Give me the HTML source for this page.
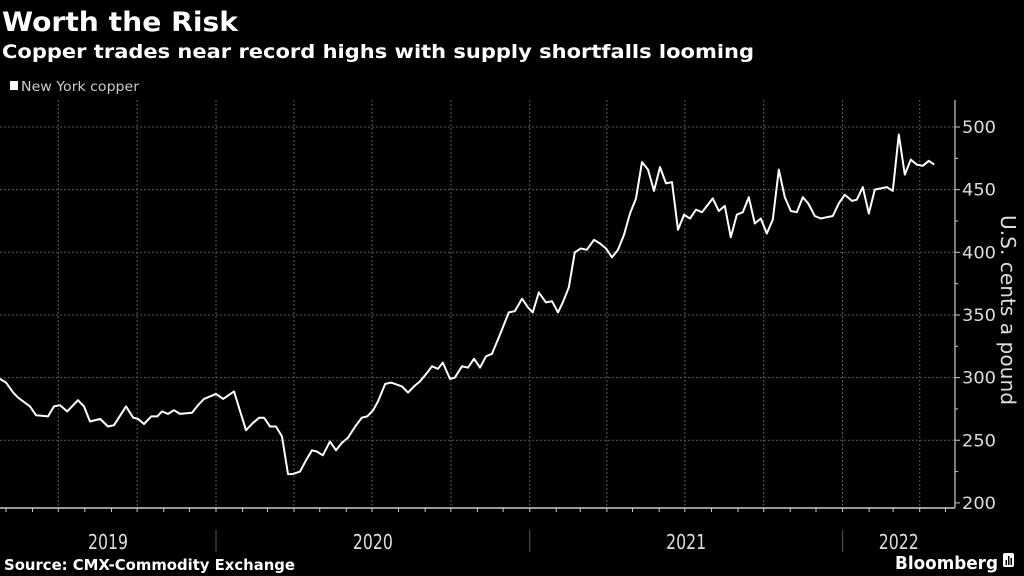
<!DOCTYPE html>
<html><head><meta charset="utf-8"><style>
html,body{margin:0;padding:0;background:#000;}
svg{display:block;font-family:"DejaVu Sans","Liberation Sans",sans-serif;}
</style></head><body>
<svg id="chart" width="1024" height="576" viewBox="0 0 1024 576" xmlns="http://www.w3.org/2000/svg">
<rect width="1024" height="576" fill="#000"/>
<text x="2" y="31" fill="#fff" font-weight="bold" font-size="27" textLength="236" lengthAdjust="spacingAndGlyphs">Worth the Risk</text>
<text x="2" y="58" fill="#fff" font-weight="bold" font-size="19" textLength="752" lengthAdjust="spacingAndGlyphs">Copper trades near record highs with supply shortfalls looming</text>
<g>
<rect x="10" y="81" width="8" height="9" fill="#fff"/>
<text x="21" y="91" fill="#ccc" font-size="13" textLength="118" lengthAdjust="spacingAndGlyphs">New York copper</text>
</g>
<g id="grid"></g>
<g id="xaxis"></g>
<g id="yaxis"></g>
<g id="series"></g>
<text transform="translate(1001,310) rotate(90)" text-anchor="middle" fill="#ddd" font-size="20" textLength="190" lengthAdjust="spacingAndGlyphs">U.S. cents a pound</text>
<text x="4" y="570" fill="#fff" font-weight="bold" font-size="15" textLength="291" lengthAdjust="spacingAndGlyphs">Source: CMX-Commodity Exchange</text>
<text x="895" y="569" fill="#fff" font-weight="bold" font-size="18" textLength="103" lengthAdjust="spacingAndGlyphs">Bloomberg</text>
<g><rect x="1003" y="553" width="11" height="14" rx="2" fill="#fff"/><rect x="1005.5" y="560" width="1.5" height="5" fill="#000"/><rect x="1008" y="556" width="1.5" height="9" fill="#000"/><rect x="1010.5" y="558" width="1.5" height="7" fill="#000"/></g>
</svg>
<script>
const weeks = [0,1,2.2,3,5,6,8,9,10,11.2,12,13,14,15,16.7,18,19,21,22.2,23,24,25.2,26.2,27,28,29,30,32,33,34,36,37.2,39,41,42.2,43.2,44,45,46,47,48,48.8,50,51,52,52.8,53.8,55,56,57,58,59.2,60.3,61.2,62.2,63,64.2,65.2,67,68,69,70,71.2,72,73,73.8,75,75.8,77,78,79,80,81,82,
83.3,84.8,85.8,87,88,88.8,89.8,91,92,93,93.8,94.8,95.8,96.8,97.8,99,100,101,102,103,104,105,106,107,108,109,110,111,112,113,114,115,116,117,118.8,119.8,120.8,121.8,122.8,123.8,124.8,125.8,126.8,127.8,128.8,129.8,130.8,131.8,132.8,133.8,134.7,135.8,136.8,137.8,138.8,139.8,140.8,142,142.8,143.8,144.8,145.8,146.8,147.8,148.8,149.8,150.8,151.8,152.8,153.8,154.8,155.7];
const prices = [299,296,288,284,277,270,269,277,278,273,277,282,277,265,267,261,262,277,268,267,263,269,269,273,271,274,271,272,278,283,287,283,289,258,264,268,268,261,261,253,223,223,225,234,242,241,238,249,242,248,252,261,268,269,274,281,295,296,293,288,293,297,304,309,307,312,299,300,309,308,315,308,317,319,
334,352,353,363,356,352,368,360,361,352,360,372,400,403,402,410,407,403,396,402,414,431,443,472,466,449,468,455,456,418,430,427,434,432,443,433,437,412,430,432,444,423,427,415,426,466,444,433,432,444,439,429,427,428,429,439,446,441,442,452,431,450,451,452,449,494,462,474,470,469,473,470];
const yTicks = [200,250,300,350,400,450,500];
const yTickLabels = ["200","250","300","350","400","450","500"];
const years = [2019,2020,2021,2022];
const startDate = "2019-04-24";

const NS = "http://www.w3.org/2000/svg";
const plotLeft = 0, plotRight = 955, axisY = 508;
function yScale(v){ return 127 + (500 - v) * 1.253; }
function xWeek(w){ return w * 6; }
const t0 = Date.UTC(2019,3,24);
function xDate(y,m){ return xWeek((Date.UTC(y,m,1) - t0) / (7*86400000)); }
function mk(tag, attrs, parent){ const e = document.createElementNS(NS, tag); for (const k in attrs) e.setAttribute(k, attrs[k]); parent.appendChild(e); return e; }

const grid = document.getElementById('grid');
const xaxis = document.getElementById('xaxis');
const yaxis = document.getElementById('yaxis');
const series = document.getElementById('series');

yTicks.forEach((v,i) => {
  const y = yScale(v);
  if (v > 200) {
    const g = mk('line', {x1:plotLeft, x2:plotRight, y1:y, y2:y, stroke:'#5a5a5a', 'stroke-width':1, 'stroke-dasharray':'2,2'}, grid);
    
    
  }
  const t = mk('line', {x1:plotRight, x2:plotRight+5, y1:y, y2:y, stroke:'#ccc', 'stroke-width':1}, yaxis);
  
  
  const l = mk('text', {x:plotRight+7, y:y+6, fill:'#ddd', 'font-size':17, textLength:34, lengthAdjust:'spacingAndGlyphs'}, yaxis);
  l.textContent = yTickLabels[i];
  
  
});
for (let i=0;i<yTicks.length-1;i++){
  const y = yScale((yTicks[i]+yTicks[i+1])/2);
  const t = mk('line', {x1:plotRight, x2:plotRight+3, y1:y, y2:y, stroke:'#ccc', 'stroke-width':1}, yaxis);
  
  
}
const yl = mk('line', {x1:plotRight, x2:plotRight, y1:100, y2:axisY, stroke:'#ccc', 'stroke-width':1.2}, yaxis);



const xl = mk('line', {x1:0, x2:plotRight, y1:axisY, y2:axisY, stroke:'#ccc', 'stroke-width':1.5}, xaxis);


for (let y=2019; y<=2022; y++){
  for (let m=0; m<12; m++){
    const x = xDate(y,m);
    if (x < 0 || x > plotRight) continue;
    const t = mk('line', {x1:x, x2:x, y1:axisY, y2:axisY+4, stroke:'#ccc', 'stroke-width':1}, xaxis);
    
    
    if (m % 3 === 0) {
      const g = mk('line', {x1:x, x2:x, y1:100, y2:axisY, stroke:'#5a5a5a', 'stroke-width':1, 'stroke-dasharray':'2,2'}, grid);
      
      
    }
  }
}
years.forEach(yr => {
  const a = Math.max(0, xDate(yr,0)), b = Math.min(plotRight, xDate(yr+1,0));
  if (yr > years[0]) {
    const s = mk('line', {x1:a, x2:a, y1:530, y2:552, stroke:'#555', 'stroke-width':1}, xaxis);
    
    
  }
  const t = mk('text', {x:(a+b)/2 - 20, y:549, fill:'#ddd', 'font-size':20, textLength:40, lengthAdjust:'spacingAndGlyphs'}, xaxis);
  t.textContent = String(yr);
  
  
});

const pts = weeks.map((w,i) => xWeek(w).toFixed(1) + ',' + yScale(prices[i]).toFixed(1)).join(' ');
const line = mk('polyline', {points:pts, fill:'none', stroke:'#fff', 'stroke-width':2, 'stroke-linejoin':'round'}, series);


</script>
</body></html>
